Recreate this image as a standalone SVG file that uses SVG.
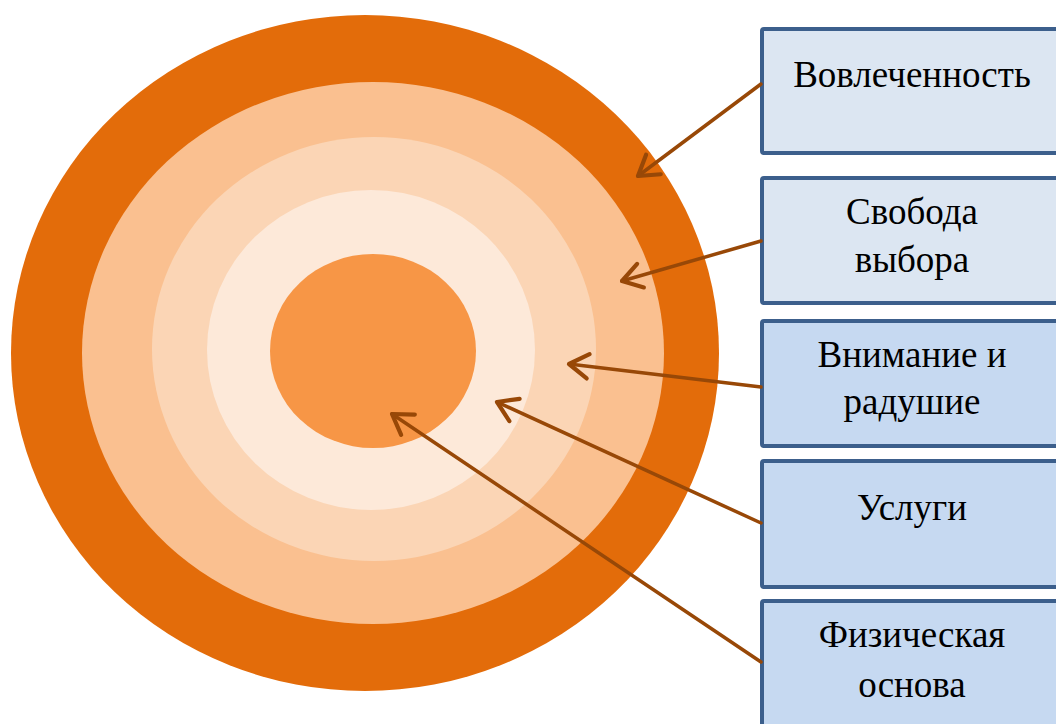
<svg xmlns="http://www.w3.org/2000/svg" width="1056" height="724" viewBox="0 0 1056 724">
<style>
.box{stroke:#3c5f8c;stroke-width:4;}
.b1{fill:#dce6f2;}
.b2{fill:#c6d9f1;}
.t{font-family:"Liberation Serif","Times New Roman",serif;font-size:37px;fill:#000;text-anchor:middle;}
.c{stroke:#984807;stroke-width:3.5;fill:none;stroke-linecap:round;}
</style>
<defs>
<marker id="ah" markerWidth="8" markerHeight="8" refX="7" refY="4" orient="auto" markerUnits="strokeWidth" viewBox="0 0 8 8" overflow="visible">
<polyline points="1.5,0.5 7,4 1.5,7.5" fill="none" stroke="#984807" stroke-width="1.2" stroke-linecap="round" stroke-linejoin="round"/>
</marker>
</defs>
<g id="target">
<ellipse cx="365" cy="353" rx="354" ry="338" fill="#e36c0a"/>
<ellipse cx="373" cy="353" rx="291" ry="271" fill="#fac090"/>
<ellipse cx="374" cy="349" rx="222" ry="212" fill="#fbd5b5"/>
<ellipse cx="371" cy="350" rx="164" ry="160" fill="#fde9d9"/>
<ellipse cx="373" cy="351" rx="103" ry="97" fill="#f79646"/>
</g>
<g id="node1"><rect class="box b1" x="762" y="29" width="300" height="124" rx="2"/><text class="t" x="912" y="87">Вовлеченность</text></g>
<g id="node2"><rect class="box b1" x="762" y="178" width="300" height="125" rx="2"/><text class="t" x="912" y="224">Свобода</text><text class="t" x="912" y="272">выбора</text></g>
<g id="node3"><rect class="box b2" x="762" y="321" width="300" height="125" rx="2"/><text class="t" x="912" y="367">Внимание и</text><text class="t" x="912" y="414">радушие</text></g>
<g id="node4"><rect class="box b2" x="762" y="461" width="300" height="126" rx="2"/><text class="t" x="912" y="520">Услуги</text></g>
<g id="node5"><rect class="box b2" x="762" y="601" width="300" height="130" rx="2"/><text class="t" x="912" y="647">Физическая</text><text class="t" x="912" y="697">основа</text></g>
<g id="connectors">
<line class="c" x1="761" y1="84" x2="638" y2="176" marker-end="url(#ah)"/>
<line class="c" x1="761" y1="241" x2="622" y2="281" marker-end="url(#ah)"/>
<line class="c" x1="761" y1="387" x2="569" y2="364" marker-end="url(#ah)"/>
<line class="c" x1="761" y1="523" x2="497" y2="402" marker-end="url(#ah)"/>
<line class="c" x1="761" y1="662" x2="392" y2="414" marker-end="url(#ah)"/>
</g>
</svg>
